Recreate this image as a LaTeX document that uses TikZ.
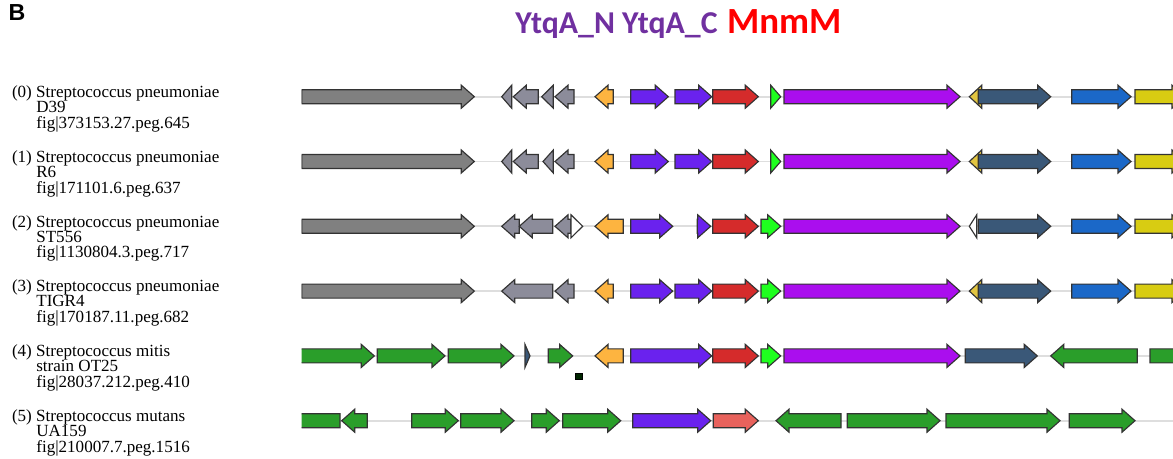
\documentclass[tikz,border=0pt]{standalone}
\usepackage{fontspec}
\setmainfont{Liberation Serif}
\newfontfamily\arialf{Liberation Sans}
\newfontfamily\calib{Carlito}
\definecolor{gbig}{HTML}{808080}
\definecolor{glav}{HTML}{8C8C9A}
\definecolor{orng}{HTML}{FDB440}
\definecolor{ytqa}{HTML}{6A22EE}
\definecolor{mgnt}{HTML}{AA0EEE}
\definecolor{rd}{HTML}{D52B2B}
\definecolor{lime}{HTML}{1EFF1E}
\definecolor{slt}{HTML}{3A5878}
\definecolor{blu}{HTML}{1B68C8}
\definecolor{yl}{HTML}{D8CC12}
\definecolor{yls}{HTML}{E2C540}
\definecolor{frst}{HTML}{2A9E2A}
\definecolor{slmn}{HTML}{E8625C}
\definecolor{hdpurple}{HTML}{7030A0}
\tikzset{
  gene/.style={draw=black!80,line width=0.65pt,line join=miter},
  backbone/.style={draw=black!13,line width=1.1pt},
  lbl/.style={anchor=base west,inner sep=0pt,font=\fontsize{9.7}{11}\selectfont}
}
% gene arrow: row y, left x, right x, direction (1 / -1), fill
\newcommand{\gene}[5]{%
  \pgfmathsetmacro{\gtip}{#4>0 ? #3 : #2}%
  \pgfmathsetmacro{\gbase}{#4>0 ? #2 : #3}%
  \pgfmathsetmacro{\gneck}{\gtip-#4*min(13,#3-#2)}%
  \draw[gene,fill=#5] (\gbase,#1-7) -- (\gneck,#1-7) -- (\gneck,#1-11.5) -- (\gtip,#1)
    -- (\gneck,#1+11.5) -- (\gneck,#1+7) -- (\gbase,#1+7) -- cycle;}
\begin{document}
\begin{tikzpicture}[x=0.02cm,y=-0.02cm]
  \useasboundingbox (0,0) rectangle (1173,458);
  \fill[white] (0,0) rectangle (1173,458);
  % header
  \node[anchor=base west,inner sep=0pt,font=\arialf\bfseries\fontsize{13.2}{15}\selectfont] (panel) at (8.3,20) {B};
  \node[anchor=base west,inner sep=0pt,text=hdpurple,font=\calib\bfseries\fontsize{18.1}{20}\selectfont] (ytqa) at (515,33.3) {YtqA\_N YtqA\_C};
  \node[anchor=base west,inner sep=0pt,text=red,font=\calib\bfseries\fontsize{21}{24}\selectfont] (mnmm) at (726.7,33.3) {MnmM};
  % labels
  \foreach \i/\sp/\st/\fg [evaluate=\i as \yy using 96.7+64.8*\i] in {
      0/Streptococcus pneumoniae/D39/373153.27.peg.645,
      1/Streptococcus pneumoniae/R6/171101.6.peg.637,
      2/Streptococcus pneumoniae/ST556/1130804.3.peg.717,
      3/Streptococcus pneumoniae/TIGR4/170187.11.peg.682,
      4/Streptococcus mitis/strain OT25/28037.212.peg.410,
      5/Streptococcus mutans/UA159/210007.7.peg.1516} {
    \node[lbl] (sp\i) at (11.7,\yy+0.8) {(\i) \sp};
    \node[lbl] (st\i) at (36,\yy+15.8) {\st};
    \node[lbl] (fig\i) at (36,\yy+31.6) {fig|\fg};
  }
  \begin{scope}
  \clip (301.7,0) rectangle (1173,458);
  % backbones
  \foreach \y in {96.7,161.5,226.3,291.1,355.9,420.7}
    \draw[backbone] (302,\y) -- (1173,\y);
  % row 0
  \foreach \a/\b/\d/\c in {301.7/474.3/1/gbig, 501.7/511.7/-1/glav, 513.3/538.3/-1/glav,
      541.7/553.3/-1/glav, 555/574/-1/glav, 595/613.3/-1/orng, 630.7/668.3/1/ytqa,
      675/711.7/1/ytqa, 712.7/758.3/1/rd, 770.7/780.7/1/lime, 784/960/1/mgnt,
      969.3/981.7/-1/yls, 978.3/1050.7/1/slt, 1071.7/1131/1/blu, 1135/1185/1/yl}
    \gene{96.7}{\a}{\b}{\d}{\c};
  % row 1
  \foreach \a/\b/\d/\c in {301.7/474.3/1/gbig, 501.7/511.7/-1/glav, 513.3/538.3/-1/glav,
      543/553.3/-1/glav, 555/574/-1/glav, 595/613.3/-1/orng, 630.7/668.3/1/ytqa,
      675/711.7/1/ytqa, 712.7/758.3/1/rd, 770.7/780.7/1/lime, 784/960/1/mgnt,
      969.3/981.7/-1/yls, 978.3/1050.7/1/slt, 1071.7/1131/1/blu, 1135/1185/1/yl}
    \gene{161.5}{\a}{\b}{\d}{\c};
  % row 2
  \foreach \a/\b/\d/\c in {301.7/474.3/1/gbig, 501.7/519.3/-1/glav, 519.3/552.7/-1/glav,
      555/571/-1/glav, 571/582.7/1/white, 595/623.3/-1/orng, 630.7/672.7/1/ytqa,
      697.3/710.7/1/ytqa, 712.7/758.3/1/rd, 761/780.7/1/lime, 784/960/1/mgnt,
      969.3/976.7/-1/white, 978.3/1050.7/1/slt, 1071.7/1131/1/blu, 1135/1185/1/yl}
    \gene{226.3}{\a}{\b}{\d}{\c};
  % row 3
  \foreach \a/\b/\d/\c in {301.7/474.3/1/gbig, 501.7/552.7/-1/glav, 555/574/-1/glav,
      595/613.3/-1/orng, 630.7/672.7/1/ytqa, 675/711.7/1/ytqa, 712.7/758.3/1/rd,
      761/780.7/1/lime, 784/960/1/mgnt, 969.3/981.7/-1/yls, 978.3/1050.7/1/slt,
      1071.7/1131/1/blu, 1135/1185/1/yl}
    \gene{291.1}{\a}{\b}{\d}{\c};
  % row 4
  \foreach \a/\b/\d/\c in {288/374.3/1/frst, 377.3/445/1/frst, 448.3/514/1/frst,
      525/530/1/slt, 548.3/572.7/1/frst, 595/623.3/-1/orng, 630.7/711.7/1/ytqa,
      712.7/758.3/1/rd, 761/780.7/1/lime, 784/960/1/mgnt, 965.3/1037.3/1/slt,
      1050.7/1137.3/-1/frst, 1150/1200/1/frst}
    \gene{355.9}{\a}{\b}{\d}{\c};
  \draw[fill=black!85!green,draw=black] (575.5,373.5) rectangle (582,379);
  % row 5
  \foreach \a/\b/\d/\c in {280/340/-1/frst, 341.7/367.3/-1/frst, 411.7/458.3/1/frst,
      460.7/514/1/frst, 531.7/559.3/1/frst, 562.7/620.7/1/frst, 632.7/710.7/1/ytqa,
      713.3/758.3/1/slmn, 776/841/-1/frst, 847.3/940/1/frst, 946/1060/1/frst,
      1069.3/1135/1/frst}
    \gene{420.7}{\a}{\b}{\d}{\c};
  \end{scope}
\end{tikzpicture}
\end{document}
